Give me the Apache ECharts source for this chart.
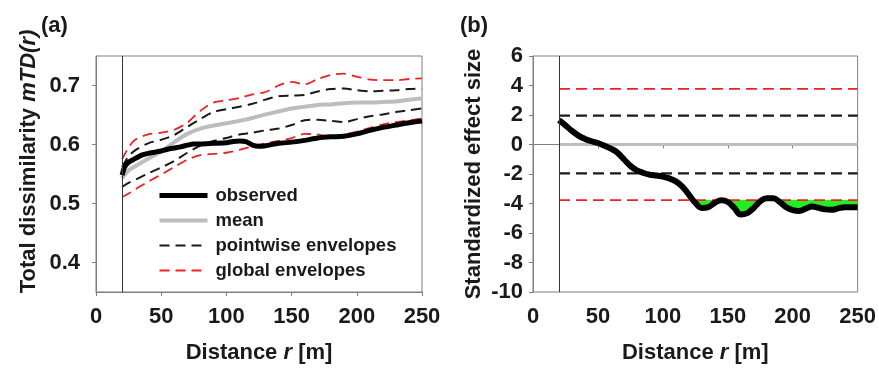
<!DOCTYPE html>
<html><head><meta charset="utf-8">
<script src="https://cdn.jsdelivr.net/npm/echarts@6/dist/echarts.min.js"></script>
<style>html,body{margin:0;padding:0;background:#fff}#c{width:879px;height:379px}</style>
</head><body><div id="c"></div>
<script>
// ---------- data ----------
const xTicks = [0, 50, 100, 150, 200, 250];
const yTicksA = [0.4, 0.5, 0.6, 0.7];
const yTicksB = [-10, -8, -6, -4, -2, 0, 2, 4, 6];
const startR = 20;

// panel (a)
const rA = [20, 25, 30, 40, 50, 60, 70, 80, 90, 100, 110, 120, 130, 140, 150, 160, 170, 180, 190, 200, 210, 220, 230, 240, 250];
const globalUpperA = [0.575, 0.595, 0.608, 0.617, 0.620, 0.625, 0.637, 0.657, 0.671, 0.675, 0.679, 0.685, 0.689, 0.700, 0.706, 0.702, 0.711, 0.718, 0.720, 0.715, 0.710, 0.709, 0.709, 0.711, 0.712];
const pointwiseUpperA = [0.562, 0.580, 0.590, 0.602, 0.608, 0.616, 0.630, 0.643, 0.655, 0.660, 0.664, 0.669, 0.676, 0.682, 0.683, 0.684, 0.690, 0.694, 0.695, 0.692, 0.690, 0.691, 0.692, 0.694, 0.695];
const meanA = [0.543, 0.556, 0.563, 0.576, 0.588, 0.604, 0.618, 0.627, 0.632, 0.636, 0.640, 0.645, 0.651, 0.656, 0.661, 0.664, 0.667, 0.668, 0.670, 0.671, 0.671, 0.672, 0.673, 0.676, 0.678];
const pointwiseLowerA = [0.528, 0.535, 0.540, 0.551, 0.561, 0.572, 0.586, 0.598, 0.606, 0.611, 0.617, 0.620, 0.624, 0.627, 0.633, 0.641, 0.642, 0.640, 0.638, 0.643, 0.648, 0.651, 0.655, 0.658, 0.661];
const globalLowerA = [0.511, 0.517, 0.524, 0.537, 0.549, 0.562, 0.574, 0.582, 0.584, 0.586, 0.591, 0.597, 0.602, 0.606, 0.611, 0.618, 0.617, 0.613, 0.617, 0.622, 0.628, 0.634, 0.638, 0.641, 0.644];
const obsRA = [20, 22, 25, 30, 35, 40, 45, 50, 55, 60, 65, 70, 75, 80, 90, 100, 105, 110, 115, 120, 125, 130, 140, 150, 160, 170, 180, 190, 200, 210, 220, 230, 240, 250];
const observedA = [0.548, 0.562, 0.570, 0.576, 0.582, 0.585, 0.587, 0.589, 0.592, 0.594, 0.596, 0.599, 0.601, 0.601, 0.602, 0.603, 0.605, 0.606, 0.605, 0.599, 0.597, 0.598, 0.602, 0.604, 0.607, 0.611, 0.613, 0.614, 0.618, 0.624, 0.629, 0.633, 0.637, 0.640];

// panel (b)
const rB = [20, 25, 30, 35, 40, 45, 50, 55, 60, 65, 70, 75, 80, 85, 90, 95, 100, 105, 110, 115, 120, 125, 130, 135, 140, 145, 150, 155, 160, 165, 170, 175, 180, 185, 190, 195, 200, 205, 210, 215, 220, 225, 230, 235, 240, 245, 250];
const sesB = [1.65, 1.30, 0.92, 0.60, 0.38, 0.22, 0.10, -0.08, -0.28, -0.55, -1.00, -1.45, -1.75, -1.93, -2.05, -2.10, -2.18, -2.30, -2.50, -2.85, -3.40, -3.95, -4.30, -4.25, -3.95, -3.78, -3.90, -4.30, -4.75, -4.65, -4.30, -3.85, -3.65, -3.65, -3.90, -4.25, -4.45, -4.50, -4.35, -4.20, -4.30, -4.40, -4.43, -4.33, -4.25, -4.25, -4.25];
const levelR = [20, 250];
const meanB = [0, 0];
const pointwiseB = [1.96, -1.96];
const globalB = [3.77, -3.77];

// ---------- helpers ----------
const FONT = 'Liberation Sans, Arial, sans-serif';
const TXT = '#1a1a1a';
const AX = '#7f7f7f';
const RED = '#ee2020';
const GREEN = '#22ee22';
const GREY = '#bdbdbd';
const zip = (xs, ys) => xs.map((x, i) => [x, ys[i]]);
const flat = v => levelR.map(r => [r, v]);

const nameRich = {
  a: { fontSize: 22, fontWeight: 'bold', fontFamily: FONT, color: TXT },
  b: { fontSize: 22, fontWeight: 'bold', fontStyle: 'italic', fontFamily: FONT, color: TXT }
};
const labelStyle = { fontSize: 22, fontWeight: 'bold', fontFamily: FONT, color: TXT };

function xAxis(gi) {
  return {
    type: 'value', gridIndex: gi, min: 0, max: 250, interval: 50,
    axisLine: { show: true, lineStyle: { color: AX, width: 1 } },
    axisTick: { show: true, inside: false, length: 4, lineStyle: { color: AX } },
    splitLine: { show: false },
    axisLabel: Object.assign({ margin: 14, customValues: xTicks }, labelStyle),
    name: '{a|Distance }{b|r}{a| [m]}', nameLocation: 'middle', nameGap: 50,
    nameTextStyle: { rich: nameRich }
  };
}

const vline = {
  silent: true, symbol: 'none', animation: false,
  label: { show: false },
  lineStyle: { color: '#333', width: 1, type: 'solid' },
  data: [{ xAxis: startR }]
};

const chart = echarts.init(document.getElementById('c'), null, { renderer: 'canvas' });
chart.setOption({
  animation: false,
  backgroundColor: '#fff',
  title: [
    { text: '(a)', left: 41, top: 15, padding: 0, textStyle: { fontSize: 22, fontWeight: 'bold', fontFamily: FONT, color: TXT } },
    { text: '(b)', left: 460, top: 15, padding: 0, textStyle: { fontSize: 22, fontWeight: 'bold', fontFamily: FONT, color: TXT } }
  ],
  grid: [
    { left: 96, top: 56, width: 326, height: 236, show: true, borderColor: AX, borderWidth: 1 },
    { left: 533, top: 56, width: 327, height: 236, show: true, borderColor: AX, borderWidth: 1 }
  ],
  legend: {
    left: 157, top: 186, padding: 0, orient: 'vertical', itemWidth: 48, itemHeight: 10, itemGap: 6,
    data: [
      { name: 'observed', lineStyle: { width: 5, color: '#000' } },
      { name: 'mean', lineStyle: { width: 4, color: GREY } },
      { name: 'pointwise envelopes', lineStyle: { width: 2.2, color: '#1a1a1a', type: [10, 6] } },
      { name: 'global envelopes', lineStyle: { width: 2, color: RED, type: [10, 6] } }
    ],
    itemStyle: { opacity: 0 },
    textStyle: { fontSize: 18.5, fontWeight: 'bold', fontFamily: FONT, color: TXT, lineHeight: 19, padding: [0, 0, 0, 3] },
    selectedMode: false
  },
  xAxis: [xAxis(0), xAxis(1)],
  yAxis: [
    {
      type: 'value', gridIndex: 0, min: 0.35, max: 0.75,
      axisLine: { show: true, lineStyle: { color: AX } },
      axisTick: { show: true, inside: false, length: 4, lineStyle: { color: AX }, customValues: yTicksA },
      splitLine: { show: false },
      axisLabel: Object.assign({ margin: 16, customValues: yTicksA, formatter: v => v.toFixed(1) }, labelStyle),
      name: '{a|Total dissimilarity }{b|mTD(r)}', nameLocation: 'middle', nameGap: 56,
      nameTextStyle: { rich: nameRich, padding: [0, 0, 0, 25] }
    },
    {
      type: 'value', gridIndex: 1, min: -10, max: 6, interval: 2,
      axisLine: { show: true, lineStyle: { color: AX } },
      axisTick: { show: true, inside: false, length: 4, lineStyle: { color: AX } },
      splitLine: { show: false },
      axisLabel: Object.assign({ margin: 10, customValues: yTicksB }, labelStyle),
      name: 'Standardized effect size', nameLocation: 'middle', nameGap: 48,
      nameTextStyle: labelStyle
    }
  ],
  series: [
    // panel (a)
    { name: 'global envelopes', type: 'line', xAxisIndex: 0, yAxisIndex: 0, data: zip(rA, globalUpperA), symbol: 'none', smooth: 0.3,
      lineStyle: { color: RED, width: 1.8, type: [10, 6] }, itemStyle: { color: RED }, markLine: vline },
    { name: 'global envelopes', type: 'line', xAxisIndex: 0, yAxisIndex: 0, data: zip(rA, globalLowerA), symbol: 'none', smooth: 0.3,
      lineStyle: { color: RED, width: 1.8, type: [10, 6] }, itemStyle: { color: RED } },
    { name: 'pointwise envelopes', type: 'line', xAxisIndex: 0, yAxisIndex: 0, data: zip(rA, pointwiseUpperA), symbol: 'none', smooth: 0.3,
      lineStyle: { color: '#1a1a1a', width: 2, type: [10, 6] }, itemStyle: { color: '#1a1a1a' } },
    { name: 'pointwise envelopes', type: 'line', xAxisIndex: 0, yAxisIndex: 0, data: zip(rA, pointwiseLowerA), symbol: 'none', smooth: 0.3,
      lineStyle: { color: '#1a1a1a', width: 2, type: [10, 6] }, itemStyle: { color: '#1a1a1a' } },
    { name: 'mean', type: 'line', xAxisIndex: 0, yAxisIndex: 0, data: zip(rA, meanA), symbol: 'none', smooth: 0.3,
      lineStyle: { color: GREY, width: 4 }, itemStyle: { color: GREY } },
    { name: 'observed', type: 'line', xAxisIndex: 0, yAxisIndex: 0, data: zip(obsRA, observedA), symbol: 'none', smooth: 0.2,
      lineStyle: { color: '#000', width: 5 }, itemStyle: { color: '#000' } },
    // panel (b)
    { name: 'b-fill', type: 'line', xAxisIndex: 1, yAxisIndex: 1, data: zip(rB, sesB.map(v => Math.min(v, globalB[1]))), symbol: 'none', smooth: 0.4,
      lineStyle: { width: 0 }, areaStyle: { color: GREEN, opacity: 1, origin: globalB[1] } },
    { name: 'b-global-up', type: 'line', xAxisIndex: 1, yAxisIndex: 1, data: flat(globalB[0]), symbol: 'none',
      lineStyle: { color: RED, width: 1.8, type: [11, 6] }, markLine: vline },
    { name: 'b-global-lo', type: 'line', xAxisIndex: 1, yAxisIndex: 1, data: flat(globalB[1]), symbol: 'none',
      lineStyle: { color: RED, width: 1.8, type: [11, 6] } },
    { name: 'b-pw-up', type: 'line', xAxisIndex: 1, yAxisIndex: 1, data: flat(pointwiseB[0]), symbol: 'none',
      lineStyle: { color: '#1a1a1a', width: 2.2, type: [11, 6] } },
    { name: 'b-pw-lo', type: 'line', xAxisIndex: 1, yAxisIndex: 1, data: flat(pointwiseB[1]), symbol: 'none',
      lineStyle: { color: '#1a1a1a', width: 2.2, type: [11, 6] } },
    { name: 'b-mean', type: 'line', xAxisIndex: 1, yAxisIndex: 1, data: flat(meanB[0]), symbol: 'none',
      lineStyle: { color: GREY, width: 3 } },
    { name: 'b-ses', type: 'line', xAxisIndex: 1, yAxisIndex: 1, data: zip(rB, sesB), symbol: 'none', smooth: 0.4,
      lineStyle: { color: '#000', width: 6 } }
  ]
});
</script>
</body></html>
